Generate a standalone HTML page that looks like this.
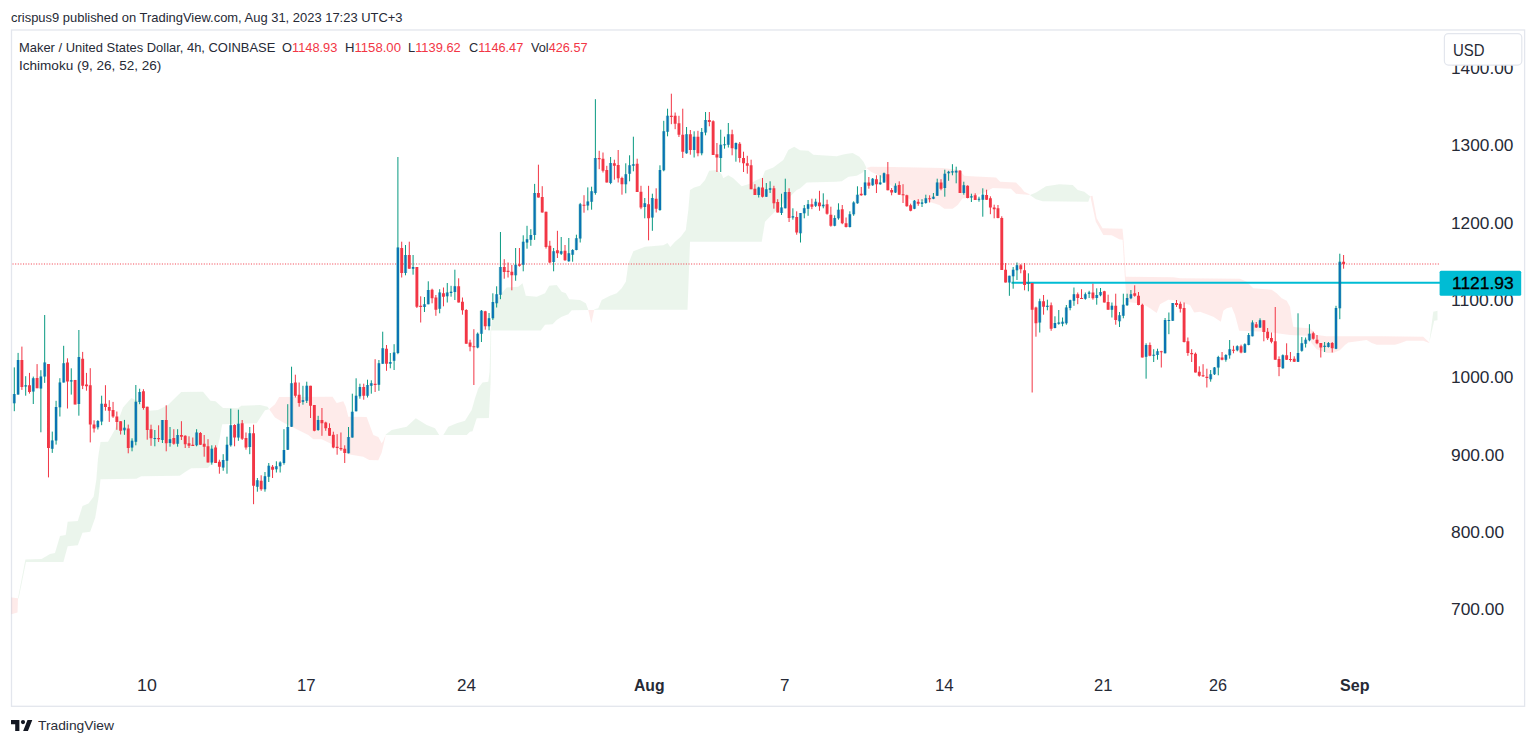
<!DOCTYPE html>
<html><head><meta charset="utf-8"><title>MKRUSD</title>
<style>
html,body{margin:0;padding:0;background:#fff;}
body{width:1536px;height:745px;position:relative;overflow:hidden;font-family:"Liberation Sans",sans-serif;color:#131722;}
.abs{position:absolute;white-space:nowrap;}
.t{position:absolute;white-space:nowrap;line-height:20px;transform-origin:0 50%;}
.t i{font-style:normal;color:#f23645;}
</style></head><body>
<svg class="abs" style="left:0;top:0" width="1536" height="745" viewBox="0 0 1536 745">
<rect x="11.5" y="30" width="1513.1" height="676.3" fill="none" stroke="#e3e6ed" stroke-width="1.3"/>
<polygon points="11.4,597.5 18.0,598.2 17.5,612.5 11.4,614.3" fill="rgba(244,67,54,0.105)"/>
<polygon points="18.0,598.2 25.4,559.6 41.6,558.9 50.0,553.9 55.0,552.9 60.0,536.1 65.7,535.1 67.7,521.7 77.8,521.0 82.5,505.9 88.5,503.6 93.6,496.8 96.3,480.0 98.0,458.3 100.5,442.0 108.0,441.7 114.7,430.0 123.0,407.5 131.3,398.0 138.0,401.0 146.3,406.7 149.7,410.8 158.0,410.0 168.0,405.0 176.3,396.7 181.3,392.0 203.0,391.7 210.5,400.8 215.5,401.3 223.0,408.0 238.0,408.3 241.3,405.8 260.0,405.0 267.5,406.7 269.2,409.2 269.2,409.2 265.0,410.3 260.8,416.7 256.7,423.3 222.2,424.2 219.7,438.3 214.7,460.0 208.0,468.0 191.3,468.3 186.3,471.3 179.7,475.8 141.3,476.3 136.3,478.7 100.5,479.2 98.6,497.5 95.2,517.7 90.2,531.7 82.5,532.8 77.8,545.2 67.7,546.2 63.4,562.0 26.0,562.0 18.6,598.5" fill="rgba(67,160,71,0.105)"/>
<polygon points="269.2,409.2 275.0,404.2 279.2,397.0 332.5,396.7 336.7,403.0 343.3,401.3 345.8,406.7 348.3,416.7 366.7,417.0 373.3,435.0 378.3,437.0 381.7,443.3 383.3,440.8 385.8,434.5 385.8,434.5 383.3,445.8 381.7,452.5 378.3,460.3 369.2,460.0 363.3,456.7 348.3,454.2 330.0,443.3 321.7,439.2 313.3,439.2 308.3,435.0 298.3,430.0 283.3,422.5 275.0,417.5 269.2,409.2" fill="rgba(244,67,54,0.105)"/>
<polygon points="385.8,434.5 391.7,430.0 406.7,426.7 415.8,418.3 426.7,425.0 435.0,428.3 439.2,435.0 439.2,435.0 385.8,435.0" fill="rgba(67,160,71,0.105)"/>
<polygon points="443.3,435.0 448.3,426.7 456.7,423.3 465.0,420.8 471.7,410.0 475.0,398.3 478.3,388.3 482.5,382.5 488.3,381.7 489.6,371.7 490.6,330.0 495.0,301.7 500.0,295.0 506.7,287.5 518.3,286.7 522.5,283.3 525.8,295.8 536.7,296.7 545.0,293.3 549.2,285.8 556.7,285.0 561.7,291.7 565.8,293.3 569.2,299.2 580.0,300.0 585.8,303.3 588.3,310.0 588.3,310.0 571.7,310.3 568.3,314.2 561.7,316.7 556.7,320.0 552.5,324.2 545.0,324.7 540.8,330.5 491.2,330.5 490.6,383.0 488.9,418.0 476.7,418.3 472.5,431.3 470.0,431.7 466.7,435.0 443.3,435.0" fill="rgba(67,160,71,0.105)"/>
<polygon points="588.3,310.0 594.2,310.0 594.2,310.0 591.3,323.3 588.3,310.0" fill="rgba(244,67,54,0.105)"/>
<polygon points="594.2,309.2 598.3,308.3 601.7,300.0 610.0,295.8 616.7,293.3 621.7,288.3 625.8,281.7 628.3,264.0 633.3,251.3 645.0,246.7 663.3,245.3 667.5,243.0 670.3,247.0 675.0,241.7 680.8,236.7 685.8,230.0 688.3,210.0 690.0,190.0 694.2,187.5 700.0,185.8 705.0,180.0 709.2,170.8 716.7,170.0 721.7,174.2 723.3,178.3 728.3,175.3 733.3,178.3 741.7,186.3 750.0,183.7 756.7,180.0 762.5,177.5 765.0,170.8 773.3,167.5 783.3,160.0 788.3,150.0 794.2,146.7 800.0,150.3 808.3,150.8 813.3,154.7 836.7,156.3 844.3,154.2 852.7,153.0 859.3,156.7 863.5,161.7 866.5,168.0 866.5,168.0 862.7,172.5 856.8,175.8 848.5,176.7 841.8,181.3 836.0,181.7 806.7,182.5 800.0,188.5 796.7,190.0 778.3,208.3 773.3,213.3 765.0,221.7 761.7,241.7 690.0,241.7 687.5,309.7 594.2,309.7" fill="rgba(67,160,71,0.105)"/>
<polygon points="866.5,168.0 871.0,166.7 892.7,167.0 942.7,168.0 959.3,170.0 964.3,175.8 971.0,176.3 996.0,177.5 1000.2,181.7 1016.0,182.5 1021.0,187.5 1024.3,191.7 1028.5,193.7 1030.2,195.0 1030.2,195.0 1016.0,193.7 1011.0,188.7 992.7,188.0 986.0,191.7 969.3,198.3 962.7,198.3 957.7,205.0 952.7,208.7 944.3,208.7 939.3,205.0 929.3,201.7 911.0,200.0 902.7,195.0 879.3,175.8 871.0,171.7 866.5,168.0" fill="rgba(244,67,54,0.105)"/>
<polygon points="1030.2,195.0 1036.0,192.5 1046.0,186.3 1059.3,184.2 1072.7,185.0 1077.7,190.0 1084.3,191.7 1088.3,195.0 1090.3,196.3 1090.3,196.3 1088.3,201.7 1042.7,201.3 1036.0,199.2 1030.2,195.3" fill="rgba(67,160,71,0.105)"/>
<polygon points="1090.3,196.3 1092.5,195.8 1096.7,218.3 1102.5,228.3 1122.5,228.7 1123.6,240.0 1125.8,276.7 1173.3,277.2 1180.0,278.3 1240.0,278.7 1246.7,281.7 1253.3,288.3 1271.7,289.7 1276.7,293.3 1281.7,298.3 1286.7,300.8 1290.0,306.7 1291.7,318.3 1293.3,326.7 1298.3,327.5 1310.0,328.3 1316.7,335.0 1326.7,336.3 1381.7,336.3 1423.3,336.7 1426.7,340.0 1429.2,342.5 1429.2,343.0 1423.3,340.8 1406.7,340.8 1400.0,343.3 1395.0,344.7 1376.7,344.7 1371.7,343.0 1366.7,340.0 1348.3,342.5 1345.0,345.0 1340.0,350.0 1333.3,353.0 1326.7,353.0 1316.7,349.2 1311.7,343.3 1308.3,335.8 1290.0,335.0 1265.0,331.7 1239.2,330.8 1235.0,315.0 1231.7,307.0 1226.7,308.3 1223.3,310.8 1220.8,321.7 1213.3,316.7 1206.7,314.2 1200.0,311.7 1194.2,312.5 1190.0,305.0 1173.3,300.0 1168.3,299.7 1160.0,304.2 1156.7,313.0 1150.0,308.3 1143.3,304.2 1138.3,303.3 1131.7,302.5 1126.7,301.7 1124.8,276.7 1122.6,239.7 1119.2,239.2 1111.7,235.3 1103.3,235.0 1095.8,221.7 1090.3,196.3" fill="rgba(244,67,54,0.105)"/>
<polygon points="1429.2,342.5 1433.3,311.7 1437.5,310.8 1437.5,320.3 1434.2,320.8 1429.2,342.5" fill="rgba(67,160,71,0.105)"/>
<line x1="12.5" x2="1439" y1="263.9" y2="263.9" stroke="#f23645" stroke-opacity="0.6" stroke-width="1.5" stroke-dasharray="1.1 1.52"/>
<line x1="1011.5" x2="1440" y1="282.7" y2="282.7" stroke="#00bcd4" stroke-width="2"/>
<path d="M14.30 367.4V411.2M18.10 352.9V394.6M25.69 376.2V395.7M33.29 376.6V404.0M40.89 370.2V432.3M44.68 315.0V382.9M52.28 431.6V452.9M56.08 400.8V444.6M59.88 378.2V416.5M63.67 345.8V382.4M71.27 368.3V394.6M78.87 330.0V415.7M97.86 420.1V429.5M101.65 395.7V425.2M124.44 419.9V434.8M132.04 438.3V451.3M135.84 385.0V445.3M139.63 388.7V404.2M154.83 430.0V446.3M162.42 420.0V443.0M170.02 427.0V446.7M177.61 429.2V446.7M196.60 429.2V446.3M211.80 445.3V464.7M223.19 454.2V470.8M226.99 436.7V473.7M230.79 408.7V446.7M238.38 409.7V440.8M249.78 427.0V454.2M257.37 478.0V491.7M264.97 472.0V491.7M268.77 463.0V482.0M276.36 461.3V472.5M280.16 461.3V472.5M283.96 429.2V464.7M287.76 404.2V450.0M291.55 366.7V426.7M302.95 385.8V404.7M306.75 381.7V403.0M318.14 415.8V430.8M348.52 427.0V453.3M352.32 393.7V437.5M356.12 378.3V411.3M359.92 383.7V398.7M367.51 379.7V397.5M371.31 380.3V393.7M378.91 360.0V390.8M382.71 331.7V363.7M390.30 353.0V368.3M394.10 344.2V370.0M397.90 157.0V354.2M405.49 245.0V275.3M413.09 255.0V274.7M424.48 297.0V312.0M428.28 281.3V304.2M439.68 289.2V313.3M447.27 283.0V302.5M451.07 285.8V296.7M454.87 269.7V300.0M477.66 332.5V348.3M481.45 310.0V342.0M489.05 313.0V330.3M492.85 293.3V320.0M496.65 286.3V307.5M500.44 232.0V299.2M515.64 248.0V280.8M523.23 235.3V271.3M527.03 225.8V248.7M530.83 229.2V245.8M534.63 183.9V239.9M553.62 248.0V271.3M561.21 237.0V255.0M568.81 238.0V261.7M572.61 249.2V261.7M576.40 234.7V250.3M580.20 202.9V242.5M587.80 187.4V210.3M591.60 186.7V209.7M595.39 99.2V194.7M610.59 157.0V184.2M625.78 163.3V193.3M629.58 155.3V181.3M633.37 136.7V171.3M644.77 198.0V218.3M652.36 193.7V230.8M659.96 165.3V210.8M663.76 120.8V171.3M667.56 108.7V136.3M686.55 127.0V153.7M694.14 131.3V157.5M701.74 128.0V155.3M705.54 112.0V135.3M720.73 129.7V172.0M724.53 136.7V148.7M728.32 123.0V147.5M735.92 142.5V161.7M758.71 186.7V197.5M766.30 183.0V196.7M770.10 181.3V193.0M781.50 193.7V215.0M785.29 178.7V208.3M792.89 208.3V219.7M800.49 213.0V242.5M804.28 205.0V218.3M808.08 200.0V215.8M815.68 198.7V207.0M823.27 193.3V208.3M834.67 215.3V226.3M838.47 203.3V219.7M849.86 211.3V227.5M853.66 201.3V215.8M857.46 186.3V203.7M865.05 170.0V195.8M872.65 178.0V185.8M880.24 175.3V184.7M884.04 172.5V182.5M895.44 183.3V193.0M914.43 200.0V209.2M922.02 199.2V207.0M925.82 194.7V203.7M933.42 193.0V199.2M937.21 178.7V195.8M944.81 169.7V196.7M948.61 170.8V180.8M952.41 164.2V175.3M956.20 166.7V183.3M963.80 181.7V194.7M971.40 193.7V202.0M978.99 196.7V201.7M982.79 188.3V216.7M1009.38 275.8V295.8M1013.17 267.0V288.7M1016.97 262.5V280.0M1028.37 273.3V291.3M1039.76 298.7V332.5M1047.36 299.7V310.3M1054.95 316.3V328.3M1058.75 310.0V324.7M1062.55 317.5V326.3M1066.35 305.0V324.7M1070.14 299.7V310.3M1073.94 287.5V305.8M1085.34 292.5V299.7M1089.13 290.8V298.0M1096.73 288.3V304.7M1100.53 288.0V296.3M1111.92 302.5V317.5M1119.52 312.0V327.0M1123.32 293.7V318.3M1127.11 293.7V305.8M1130.91 290.0V299.2M1146.10 343.3V378.7M1153.70 349.2V362.0M1157.50 348.7V359.7M1165.09 318.0V353.3M1168.89 312.5V334.2M1172.69 303.0V320.8M1210.67 370.0V381.7M1214.47 367.0V375.0M1218.27 355.8V375.3M1225.86 354.2V361.7M1229.66 340.0V358.7M1237.26 345.3V351.3M1244.85 343.3V353.0M1248.65 333.0V345.3M1252.45 320.3V336.3M1260.04 318.3V328.0M1282.83 354.4V368.7M1298.02 313.3V362.0M1301.82 337.0V351.7M1305.62 337.5V347.5M1309.42 324.2V341.3M1324.61 342.0V352.0M1328.41 342.0V347.5M1336.00 305.8V349.2M1339.80 253.7V319.2" stroke="#089981" stroke-width="1" fill="none"/>
<path d="M21.90 346.6V389.9M29.49 372.9V393.6M37.09 364.1V388.2M48.48 364.1V477.4M67.47 358.3V408.5M75.07 379.9V404.4M82.66 351.9V389.1M86.46 372.9V390.7M90.26 368.2V442.4M94.06 420.3V432.5M105.45 385.2V410.7M109.25 400.2V421.9M113.05 401.9V417.9M116.85 411.5V429.8M120.64 421.2V434.5M128.24 424.6V453.3M143.43 389.2V409.7M147.23 406.7V439.7M151.03 424.7V445.8M158.62 425.3V442.0M166.22 405.3V451.3M173.82 429.2V444.7M181.41 421.2V440.0M185.21 435.3V448.0M189.01 436.3V448.0M192.81 437.5V446.0M200.40 432.0V445.0M204.20 435.0V456.7M208.00 439.2V462.5M215.59 445.3V463.0M219.39 459.7V473.7M234.58 424.2V446.3M242.18 420.0V440.0M245.98 432.5V449.7M253.57 424.7V504.2M261.17 475.3V490.8M272.56 465.0V478.0M295.35 374.7V397.5M299.15 382.5V406.7M310.54 385.8V418.0M314.34 405.0V431.3M321.94 408.0V435.8M325.74 421.7V430.8M329.53 423.3V435.8M333.33 431.7V448.3M337.13 434.2V454.7M340.93 432.5V450.8M344.73 445.3V463.0M363.72 383.7V399.7M375.11 359.2V392.0M386.50 345.0V370.8M401.70 241.7V277.5M409.29 241.7V268.7M416.89 267.0V308.0M420.69 296.3V322.5M432.08 288.7V303.3M435.88 295.0V315.8M443.47 287.5V306.3M458.67 278.3V302.5M462.46 297.5V314.7M466.26 309.2V343.7M470.06 339.7V351.3M473.86 329.2V385.0M485.25 310.8V329.7M504.24 259.2V278.7M508.04 262.5V277.5M511.84 265.0V290.3M519.43 248.0V266.7M538.42 164.7V197.6M542.22 186.2V212.6M546.02 211.7V248.6M549.82 240.8V263.3M557.41 230.8V258.0M565.01 245.0V260.8M584.00 195.2V212.7M599.19 150.8V169.2M602.99 152.5V172.5M606.79 165.8V182.5M614.38 159.7V179.7M618.18 150.0V182.5M621.98 176.7V194.7M637.17 158.7V192.0M640.97 185.8V209.2M648.57 185.8V240.3M656.16 188.3V212.5M671.35 93.7V124.2M675.15 112.5V129.2M678.95 115.8V137.0M682.75 108.7V158.0M690.34 130.0V154.7M697.94 130.8V156.3M709.33 112.0V126.3M713.13 120.3V155.0M716.93 143.0V172.0M732.12 129.7V155.3M739.72 142.0V162.5M743.52 151.7V172.0M747.31 155.8V173.7M751.11 159.7V189.2M754.91 184.2V195.0M762.51 178.0V197.5M773.90 185.8V208.7M777.70 199.2V212.5M789.09 188.3V222.0M796.69 211.3V234.7M811.88 198.7V209.2M819.48 190.8V210.8M827.07 199.7V214.7M830.87 206.7V226.7M842.26 205.0V224.2M846.06 217.5V227.5M861.25 187.0V195.8M868.85 177.0V188.7M876.45 175.3V193.0M887.84 162.0V190.3M891.64 188.0V195.3M899.23 181.3V194.7M903.03 184.2V203.0M906.83 194.7V206.7M910.63 203.7V211.3M918.22 199.2V205.8M929.62 195.3V202.5M941.01 179.2V190.3M960.00 170.0V193.0M967.60 185.3V198.3M975.19 193.3V200.0M986.59 189.7V200.0M990.39 196.3V214.2M994.18 204.7V218.3M997.98 205.0V218.3M1001.78 216.3V270.0M1005.58 263.0V282.5M1020.77 264.2V273.3M1024.57 263.0V290.3M1032.16 283.0V392.5M1035.96 306.7V336.7M1043.56 295.0V314.7M1051.15 302.5V330.8M1077.74 292.5V304.2M1081.54 289.2V299.0M1092.93 283.7V299.7M1104.33 290.8V302.5M1108.12 294.7V309.7M1115.72 293.7V324.7M1134.71 285.3V296.7M1138.51 292.0V305.3M1142.31 303.7V357.5M1149.90 342.5V356.3M1161.30 350.8V367.5M1176.49 300.0V307.0M1180.29 301.7V312.5M1184.08 302.5V342.5M1187.88 337.5V355.8M1191.68 349.2V362.0M1195.48 352.5V372.5M1199.28 366.3V376.7M1203.07 364.2V377.0M1206.87 368.7V387.5M1222.06 352.0V360.3M1233.46 345.8V353.3M1241.05 344.7V353.3M1256.25 322.0V328.0M1263.84 320.3V341.3M1267.64 328.0V340.0M1271.44 332.5V343.3M1275.24 307.0V359.7M1279.03 356.4V376.2M1286.63 343.3V360.0M1290.43 352.0V361.7M1294.23 356.3V362.0M1313.22 331.7V339.7M1317.01 335.0V344.2M1320.81 343.0V357.5M1332.21 342.0V352.5M1343.60 255.0V268.7" stroke="#f23645" stroke-width="1" fill="none"/>
<path d="M14.30 394.1V403.2M18.10 359.9V394.6M25.69 385.2V386.6M33.29 378.2V391.6M40.89 376.6V388.6M44.68 362.4V376.6M52.28 440.4V448.8M56.08 407.0V440.4M59.88 382.4V407.3M63.67 363.3V382.4M71.27 380.2V381.6M78.87 357.1V404.0M97.86 421.1V427.3M101.65 403.7V421.5M124.44 427.8V430.2M132.04 440.8V447.5M135.84 401.7V441.7M139.63 392.0V402.0M154.83 438.0V439.0M162.42 420.0V440.0M170.02 439.2V443.0M177.61 435.0V443.7M196.60 432.5V445.3M211.80 448.7V462.5M223.19 460.0V467.5M226.99 444.7V460.8M230.79 425.3V445.3M238.38 423.8V437.5M249.78 433.3V447.0M257.37 480.3V486.7M264.97 476.3V489.2M268.77 465.8V476.7M276.36 466.3V469.2M280.16 462.5V466.3M283.96 450.0V463.0M287.76 427.0V449.7M291.55 383.3V426.7M302.95 400.3V401.7M306.75 385.8V400.8M318.14 420.0V430.0M348.52 437.0V453.3M352.32 411.7V437.5M356.12 395.8V411.3M359.92 387.0V396.3M367.51 385.0V395.8M371.31 383.3V385.8M378.91 363.3V384.7M382.71 348.3V363.7M390.30 362.0V363.7M394.10 352.5V360.8M397.90 247.5V353.0M405.49 255.0V273.0M413.09 267.0V268.7M424.48 304.2V307.0M428.28 290.0V304.2M439.68 292.5V308.7M447.27 292.5V296.3M451.07 291.7V293.0M454.87 286.3V292.0M477.66 333.7V347.5M481.45 310.8V333.7M489.05 318.3V326.3M492.85 302.0V318.3M496.65 294.2V303.3M500.44 267.0V294.7M515.64 264.7V275.3M523.23 241.7V264.7M527.03 239.2V242.5M530.83 235.0V239.7M534.63 192.9V234.9M553.62 251.3V262.0M561.21 251.3V253.7M568.81 253.3V261.3M572.61 250.0V254.7M576.40 238.3V250.0M580.20 204.2V238.5M587.80 201.5V205.6M591.60 191.3V201.7M595.39 158.0V193.0M610.59 163.0V183.0M625.78 174.2V184.2M629.58 165.3V173.7M633.37 164.2V165.8M644.77 203.3V207.0M652.36 198.0V217.5M659.96 170.0V210.0M663.76 131.3V170.3M667.56 115.8V131.7M686.55 134.2V153.3M694.14 136.7V150.0M701.74 132.0V153.3M705.54 120.0V132.5M720.73 144.7V158.0M724.53 144.2V145.3M728.32 134.2V144.7M735.92 143.0V149.2M758.71 187.5V195.0M766.30 189.2V196.7M770.10 188.3V189.7M781.50 207.5V213.0M785.29 192.0V208.3M792.89 216.3V217.5M800.49 213.0V233.3M804.28 208.3V213.3M808.08 204.2V208.7M815.68 201.7V205.8M823.27 204.7V206.3M834.67 218.0V225.8M838.47 209.7V218.3M849.86 214.2V227.0M853.66 202.5V214.2M857.46 194.7V203.3M865.05 182.5V195.0M872.65 178.7V185.3M880.24 182.5V184.2M884.04 173.3V182.5M895.44 185.8V192.5M914.43 200.8V208.7M922.02 202.5V203.7M925.82 198.3V203.0M933.42 196.7V198.7M937.21 182.5V195.8M944.81 173.7V188.0M948.61 171.7V173.3M952.41 171.3V172.5M956.20 170.8V172.5M963.80 185.3V193.0M971.40 196.3V197.5M978.99 198.7V199.7M982.79 194.7V199.7M1009.38 275.8V282.5M1013.17 269.7V276.3M1016.97 265.3V270.3M1028.37 282.5V283.7M1039.76 301.3V322.5M1047.36 305.8V307.0M1054.95 323.0V328.0M1058.75 322.5V323.7M1062.55 321.7V323.7M1066.35 307.5V323.3M1070.14 300.3V308.0M1073.94 294.2V300.8M1085.34 294.2V298.7M1089.13 292.5V293.7M1096.73 295.0V298.0M1100.53 292.0V295.3M1111.92 305.8V309.7M1119.52 315.3V321.3M1123.32 304.7V315.8M1127.11 298.0V305.3M1130.91 294.2V298.3M1146.10 345.0V356.7M1153.70 354.7V355.8M1157.50 351.3V355.0M1165.09 320.0V353.3M1168.89 320.0V321.0M1172.69 303.0V320.8M1210.67 374.2V379.2M1214.47 367.5V374.2M1218.27 357.0V367.5M1225.86 355.0V359.7M1229.66 349.2V355.3M1237.26 346.3V350.3M1244.85 344.2V352.5M1248.65 335.0V345.0M1252.45 322.5V336.3M1260.04 320.3V327.5M1282.83 355.3V368.2M1298.02 353.0V361.7M1301.82 343.3V350.8M1305.62 339.7V343.7M1309.42 333.7V340.3M1324.61 345.8V347.0M1328.41 343.0V347.0M1336.00 308.0V348.7M1339.80 261.7V308.3" stroke="#089981" stroke-opacity="0.35" stroke-width="3.4" fill="none"/>
<path d="M14.30 394.1V403.2M18.10 359.9V394.6M25.69 385.2V386.6M33.29 378.2V391.6M40.89 376.6V388.6M44.68 362.4V376.6M52.28 440.4V448.8M56.08 407.0V440.4M59.88 382.4V407.3M63.67 363.3V382.4M71.27 380.2V381.6M78.87 357.1V404.0M97.86 421.1V427.3M101.65 403.7V421.5M124.44 427.8V430.2M132.04 440.8V447.5M135.84 401.7V441.7M139.63 392.0V402.0M154.83 438.0V439.0M162.42 420.0V440.0M170.02 439.2V443.0M177.61 435.0V443.7M196.60 432.5V445.3M211.80 448.7V462.5M223.19 460.0V467.5M226.99 444.7V460.8M230.79 425.3V445.3M238.38 423.8V437.5M249.78 433.3V447.0M257.37 480.3V486.7M264.97 476.3V489.2M268.77 465.8V476.7M276.36 466.3V469.2M280.16 462.5V466.3M283.96 450.0V463.0M287.76 427.0V449.7M291.55 383.3V426.7M302.95 400.3V401.7M306.75 385.8V400.8M318.14 420.0V430.0M348.52 437.0V453.3M352.32 411.7V437.5M356.12 395.8V411.3M359.92 387.0V396.3M367.51 385.0V395.8M371.31 383.3V385.8M378.91 363.3V384.7M382.71 348.3V363.7M390.30 362.0V363.7M394.10 352.5V360.8M397.90 247.5V353.0M405.49 255.0V273.0M413.09 267.0V268.7M424.48 304.2V307.0M428.28 290.0V304.2M439.68 292.5V308.7M447.27 292.5V296.3M451.07 291.7V293.0M454.87 286.3V292.0M477.66 333.7V347.5M481.45 310.8V333.7M489.05 318.3V326.3M492.85 302.0V318.3M496.65 294.2V303.3M500.44 267.0V294.7M515.64 264.7V275.3M523.23 241.7V264.7M527.03 239.2V242.5M530.83 235.0V239.7M534.63 192.9V234.9M553.62 251.3V262.0M561.21 251.3V253.7M568.81 253.3V261.3M572.61 250.0V254.7M576.40 238.3V250.0M580.20 204.2V238.5M587.80 201.5V205.6M591.60 191.3V201.7M595.39 158.0V193.0M610.59 163.0V183.0M625.78 174.2V184.2M629.58 165.3V173.7M633.37 164.2V165.8M644.77 203.3V207.0M652.36 198.0V217.5M659.96 170.0V210.0M663.76 131.3V170.3M667.56 115.8V131.7M686.55 134.2V153.3M694.14 136.7V150.0M701.74 132.0V153.3M705.54 120.0V132.5M720.73 144.7V158.0M724.53 144.2V145.3M728.32 134.2V144.7M735.92 143.0V149.2M758.71 187.5V195.0M766.30 189.2V196.7M770.10 188.3V189.7M781.50 207.5V213.0M785.29 192.0V208.3M792.89 216.3V217.5M800.49 213.0V233.3M804.28 208.3V213.3M808.08 204.2V208.7M815.68 201.7V205.8M823.27 204.7V206.3M834.67 218.0V225.8M838.47 209.7V218.3M849.86 214.2V227.0M853.66 202.5V214.2M857.46 194.7V203.3M865.05 182.5V195.0M872.65 178.7V185.3M880.24 182.5V184.2M884.04 173.3V182.5M895.44 185.8V192.5M914.43 200.8V208.7M922.02 202.5V203.7M925.82 198.3V203.0M933.42 196.7V198.7M937.21 182.5V195.8M944.81 173.7V188.0M948.61 171.7V173.3M952.41 171.3V172.5M956.20 170.8V172.5M963.80 185.3V193.0M971.40 196.3V197.5M978.99 198.7V199.7M982.79 194.7V199.7M1009.38 275.8V282.5M1013.17 269.7V276.3M1016.97 265.3V270.3M1028.37 282.5V283.7M1039.76 301.3V322.5M1047.36 305.8V307.0M1054.95 323.0V328.0M1058.75 322.5V323.7M1062.55 321.7V323.7M1066.35 307.5V323.3M1070.14 300.3V308.0M1073.94 294.2V300.8M1085.34 294.2V298.7M1089.13 292.5V293.7M1096.73 295.0V298.0M1100.53 292.0V295.3M1111.92 305.8V309.7M1119.52 315.3V321.3M1123.32 304.7V315.8M1127.11 298.0V305.3M1130.91 294.2V298.3M1146.10 345.0V356.7M1153.70 354.7V355.8M1157.50 351.3V355.0M1165.09 320.0V353.3M1168.89 320.0V321.0M1172.69 303.0V320.8M1210.67 374.2V379.2M1214.47 367.5V374.2M1218.27 357.0V367.5M1225.86 355.0V359.7M1229.66 349.2V355.3M1237.26 346.3V350.3M1244.85 344.2V352.5M1248.65 335.0V345.0M1252.45 322.5V336.3M1260.04 320.3V327.5M1282.83 355.3V368.2M1298.02 353.0V361.7M1301.82 343.3V350.8M1305.62 339.7V343.7M1309.42 333.7V340.3M1324.61 345.8V347.0M1328.41 343.0V347.0M1336.00 308.0V348.7M1339.80 261.7V308.3" stroke="#0873b4" stroke-width="2.1" fill="none"/>
<path d="M21.90 359.9V386.9M29.49 385.2V391.9M37.09 377.9V388.2M48.48 364.1V447.9M67.47 362.4V381.6M75.07 379.9V404.4M82.66 358.8V385.7M86.46 384.6V386.2M90.26 385.2V424.5M94.06 424.5V428.6M105.45 403.7V406.9M109.25 407.0V410.7M113.05 409.9V416.5M116.85 416.5V421.9M120.64 421.2V430.7M128.24 428.6V447.9M143.43 391.3V408.0M147.23 406.7V430.0M151.03 429.2V438.3M158.62 438.0V439.3M166.22 420.0V443.3M173.82 438.0V443.7M181.41 435.0V436.7M185.21 435.8V444.2M189.01 443.3V445.8M192.81 444.7V446.0M200.40 433.0V444.7M204.20 443.7V446.7M208.00 446.3V462.5M215.59 447.5V463.0M219.39 461.7V466.7M234.58 425.0V437.5M242.18 423.3V438.7M245.98 438.0V447.5M253.57 433.3V485.8M261.17 480.8V489.2M272.56 466.7V469.7M295.35 382.5V395.8M299.15 394.7V403.0M310.54 385.8V405.8M314.34 405.0V430.8M321.94 420.0V423.3M325.74 422.5V428.3M329.53 428.0V435.8M333.33 434.7V447.5M337.13 446.7V448.0M340.93 448.0V449.3M344.73 448.7V453.0M363.72 387.0V395.8M375.11 383.7V385.0M386.50 348.7V363.7M401.70 248.0V273.0M409.29 255.0V268.7M416.89 267.0V306.7M420.69 305.8V307.0M432.08 289.7V298.3M435.88 297.5V309.7M443.47 293.3V296.7M458.67 286.3V302.5M462.46 301.7V310.3M466.26 310.0V343.7M470.06 342.5V346.7M473.86 346.3V347.3M485.25 311.3V326.3M504.24 267.0V272.0M508.04 270.8V272.0M511.84 271.7V275.3M519.43 264.2V265.8M538.42 192.9V197.6M542.22 196.9V212.6M546.02 211.7V247.0M549.82 245.8V262.5M557.41 250.3V253.3M565.01 250.8V260.3M584.00 204.7V205.7M599.19 158.0V159.2M602.99 158.7V170.8M606.79 170.0V182.5M614.38 163.3V165.8M618.18 165.0V178.3M621.98 178.0V184.2M637.17 163.7V192.0M640.97 191.7V207.5M648.57 204.2V218.3M656.16 198.7V208.7M671.35 115.8V117.0M675.15 115.8V123.7M678.95 123.3V134.7M682.75 134.7V151.7M690.34 134.2V150.0M697.94 136.7V153.3M709.33 120.0V122.0M713.13 121.3V155.0M716.93 154.2V157.5M732.12 134.2V148.3M739.72 143.7V158.0M743.52 158.0V163.3M747.31 163.3V165.8M751.11 165.3V189.2M754.91 188.7V195.0M762.51 187.5V196.7M773.90 188.3V203.3M777.70 202.0V212.5M789.09 192.0V218.0M796.69 217.0V232.5M811.88 204.2V206.7M819.48 202.5V206.3M827.07 204.2V213.7M830.87 214.7V225.8M842.26 209.2V223.3M846.06 223.3V227.0M861.25 193.7V195.3M868.85 182.5V185.8M876.45 179.2V184.2M887.84 174.2V190.3M891.64 190.0V192.5M899.23 185.0V194.7M903.03 194.2V195.3M906.83 195.3V206.3M910.63 205.3V210.8M918.22 201.7V203.7M929.62 198.3V199.3M941.01 182.5V188.7M960.00 170.8V193.0M967.60 185.8V198.0M975.19 195.3V200.0M986.59 195.0V199.7M990.39 198.3V207.5M994.18 207.5V209.2M997.98 208.3V218.0M1001.78 218.0V270.0M1005.58 269.7V282.5M1020.77 265.3V269.2M1024.57 270.3V285.0M1032.16 283.0V309.7M1035.96 307.5V323.3M1043.56 301.3V306.7M1051.15 305.3V328.7M1077.74 294.2V298.0M1081.54 298.0V299.0M1092.93 292.5V298.3M1104.33 291.3V302.5M1108.12 302.0V309.7M1115.72 305.8V320.0M1134.71 293.3V295.8M1138.51 295.8V305.0M1142.31 304.7V357.5M1149.90 345.0V355.8M1161.30 351.3V352.3M1176.49 303.0V305.0M1180.29 303.7V308.7M1184.08 308.0V342.0M1187.88 341.3V353.0M1191.68 353.0V354.2M1195.48 353.7V372.5M1199.28 371.7V375.8M1203.07 375.3V376.3M1206.87 376.7V378.0M1222.06 357.5V359.7M1233.46 349.7V350.8M1241.05 346.3V352.5M1256.25 324.2V327.5M1263.84 320.3V332.0M1267.64 331.7V338.3M1271.44 338.0V341.7M1275.24 341.3V359.7M1279.03 359.1V367.1M1286.63 355.3V359.7M1290.43 359.1V360.1M1294.23 358.7V361.7M1313.22 333.3V338.7M1317.01 339.7V343.3M1320.81 343.0V347.5M1332.21 343.0V348.3M1343.60 261.7V264.2" stroke="#f23645" stroke-width="2.9" fill="none"/>
</svg>
<div class="t" style="left:1450.61px;top:57.90px;font-size:16.4px;transform:scaleX(1.0534);color:#262a36">1400.00</div><div class="t" style="left:1450.61px;top:135.23px;font-size:16.4px;transform:scaleX(1.0534);color:#262a36">1300.00</div><div class="t" style="left:1450.61px;top:212.56px;font-size:16.4px;transform:scaleX(1.0534);color:#262a36">1200.00</div><div class="t" style="left:1450.58px;top:289.89px;font-size:16.4px;transform:scaleX(1.0762);color:#262a36">1100.00</div><div class="t" style="left:1450.61px;top:367.22px;font-size:16.4px;transform:scaleX(1.0534);color:#262a36">1000.00</div><div class="t" style="left:1450.69px;top:444.55px;font-size:16.4px;transform:scaleX(1.0602);color:#262a36">900.00</div><div class="t" style="left:1450.71px;top:521.88px;font-size:16.4px;transform:scaleX(1.0597);color:#262a36">800.00</div><div class="t" style="left:1450.65px;top:599.21px;font-size:16.4px;transform:scaleX(1.0609);color:#262a36">700.00</div>
<svg class="abs" style="left:0;top:0" width="1536" height="745" viewBox="0 0 1536 745"><rect x="1444.4" y="33.6" width="77.4" height="31.5" rx="4" fill="#fff" stroke="#e3e6ed" stroke-width="1.2"/><rect x="1439.6" y="270.7" width="81.6" height="25.1" rx="1.5" fill="#00bcd4"/></svg>
<div class="t" style="left:1452.89px;top:40.32px;font-size:16.4px;transform:scaleX(0.9119);color:#262a36">USD</div>
<div class="t" style="left:1451.72px;top:274.46px;font-size:16.0px;transform:scaleX(1.0878);color:#000;-webkit-text-stroke:0.3px #000">1121.93</div>
<div class="t" style="left:10.99px;top:8.16px;font-size:13.4px;transform:scaleX(0.9666);color:#262a36">crispus9 published on TradingView.com, Aug 31, 2023 17:23 UTC+3</div><div class="t" style="left:19.05px;top:38.26px;font-size:13.4px;transform:scaleX(0.9646);color:#262a36">Maker / United States Dollar, 4h, COINBASE</div><div class="t" style="left:282.45px;top:38.26px;font-size:13.4px;transform:scaleX(0.9572);color:#262a36">O<i>1148.93</i></div><div class="t" style="left:345.13px;top:38.26px;font-size:13.4px;transform:scaleX(0.9802);color:#262a36">H<i>1158.00</i></div><div class="t" style="left:408.15px;top:38.26px;font-size:13.4px;transform:scaleX(0.9607);color:#262a36">L<i>1139.62</i></div><div class="t" style="left:469.02px;top:38.26px;font-size:13.4px;transform:scaleX(0.9499);color:#262a36">C<i>1146.47</i></div><div class="t" style="left:531.17px;top:38.26px;font-size:13.4px;transform:scaleX(0.9484);color:#262a36">Vol<i>426.57</i></div><div class="t" style="left:19.16px;top:55.96px;font-size:13.4px;transform:scaleX(1.0118);color:#262a36">Ichimoku (9, 26, 52, 26)</div><div class="t" style="left:37.64px;top:716.29px;font-size:13.6px;transform:scaleX(1.0142);color:#2a2e39">TradingView</div><div class="t" style="left:136.77px;top:675.22px;font-size:16.4px;transform:scaleX(1.0854);color:#262a36">10</div><div class="t" style="left:297.06px;top:675.22px;font-size:16.4px;transform:scaleX(1.0202);color:#262a36">17</div><div class="t" style="left:456.58px;top:675.22px;font-size:16.4px;transform:scaleX(1.0411);color:#262a36">24</div><div class="t" style="left:633.82px;top:675.22px;font-size:16.4px;transform:scaleX(0.9604);color:#262a36;font-weight:bold">Aug</div><div class="t" style="left:780.07px;top:675.22px;font-size:16.4px;transform:scaleX(1.0405);color:#262a36">7</div><div class="t" style="left:934.65px;top:675.22px;font-size:16.4px;transform:scaleX(1.0256);color:#262a36">14</div><div class="t" style="left:1094.20px;top:675.22px;font-size:16.4px;transform:scaleX(1.0109);color:#262a36">21</div><div class="t" style="left:1208.72px;top:675.22px;font-size:16.4px;transform:scaleX(0.9845);color:#262a36">26</div><div class="t" style="left:1339.60px;top:675.22px;font-size:16.4px;transform:scaleX(0.9789);color:#262a36;font-weight:bold">Sep</div>
<svg class="abs" style="left:11px;top:720px" width="21.6" height="11.4" viewBox="0 0 36 19"><path fill="#131722" d="M14 19H7V7H0V0h14v19zM28 19h-8l7.5-19h8L28 19z"/><circle fill="#131722" cx="20" cy="3.5" r="3.5"/></svg>
</body></html>
